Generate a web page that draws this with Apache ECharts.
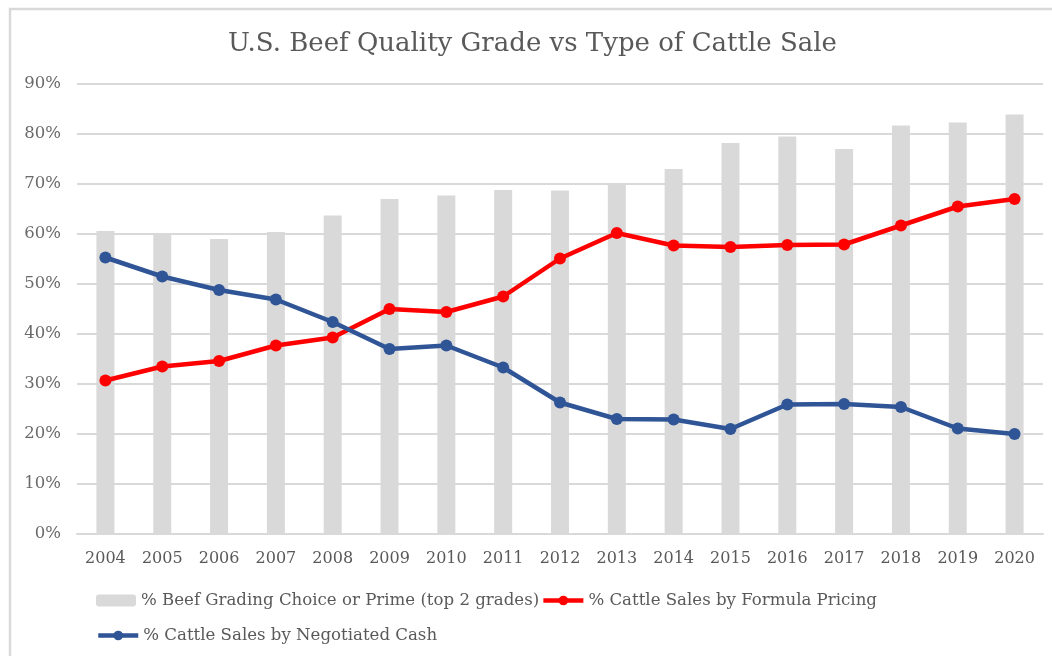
<!DOCTYPE html>
<html>
<head>
<meta charset="utf-8">
<script src="https://cdn.jsdelivr.net/npm/echarts@6/dist/echarts.min.js"></script>
<style>
  html, body { margin: 0; padding: 0; background: #fff; }
  #chart { width: 1052px; height: 656px; }
</style>
</head>
<body>
<div id="chart"></div>
<script>
const years = ['2004', '2005', '2006', '2007', '2008', '2009', '2010', '2011', '2012',
  '2013', '2014', '2015', '2016', '2017', '2018', '2019', '2020']

// % of beef grading Choice or Prime
const choicePrime = [60.6, 60.1, 59.0, 60.4, 63.7, 67.0, 67.7, 68.8, 68.7,
  70.2, 73.0, 78.2, 79.5, 77.0, 81.7, 82.3, 83.9]

// % of cattle sold on formula pricing
const formulaPricing = [30.7, 33.5, 34.6, 37.7, 39.3, 45.0, 44.4, 47.5, 55.1,
  60.2, 57.7, 57.4, 57.8, 57.9, 61.7, 65.5, 67.0]

// % of cattle sold by negotiated cash
const negotiatedCash = [55.3, 51.5, 48.8, 46.9, 42.4, 37.0, 37.7, 33.3, 26.3,
  23.0, 22.9, 21.0, 25.9, 26.0, 25.4, 21.1, 20.0]

const seriesNames = [
  '% Beef Grading Choice or Prime (top 2 grades)',
  '% Cattle Sales by Formula Pricing',
  '% Cattle Sales by Negotiated Cash'
]

const font = 'DejaVu Serif'
const textGray = '#595959'
const gridGray = '#d9d9d9'

const chart = echarts.init(document.getElementById('chart'))

// two legends so the second row sits lower, like the original
const legendBase = {
  left: 91,
  itemGap: 2,
  itemWidth: 40,
  itemHeight: 12,
  lineStyle: { width: 4.5 },
  textStyle: { fontFamily: font, fontSize: 16.6, color: textGray }
}

const option = {
  animation: false,
  textStyle: { fontFamily: font },
  title: {
    text: 'U.S. Beef Quality Grade vs Type of Cattle Sale',
    left: 223,
    top: 26,
    textStyle: { fontFamily: font, fontSize: 26, fontWeight: 'normal', color: textGray }
  },
  graphic: [{
    type: 'rect',
    shape: { x: 10, y: 9, width: 1100, height: 700 },
    style: { fill: 'none', stroke: gridGray, lineWidth: 2.5 },
    silent: true
  }],
  grid: { left: 77, right: 9, top: 84, bottom: 122 },
  legend: [
    Object.assign({}, legendBase, { top: 587, data: [seriesNames[0], seriesNames[1]] }),
    Object.assign({}, legendBase, { top: 622, data: [seriesNames[2]] })
  ],
  xAxis: {
    type: 'category',
    data: years,
    axisTick: { show: false },
    axisLine: { lineStyle: { color: gridGray, width: 2 } },
    axisLabel: { color: textGray, fontSize: 16, fontFamily: font, margin: 17 }
  },
  yAxis: {
    type: 'value',
    min: 0,
    max: 90,
    interval: 10,
    axisLine: { show: false },
    axisTick: { show: false },
    splitLine: { lineStyle: { color: gridGray, width: 2 } },
    axisLabel: { color: '#6a6a6a', fontSize: 16.5, fontFamily: font, margin: 16, formatter: '{value}%' }
  },
  series: [
    {
      name: seriesNames[0],
      type: 'bar',
      data: choicePrime,
      barWidth: 18,
      itemStyle: { color: gridGray }
    },
    {
      name: seriesNames[1],
      type: 'line',
      data: formulaPricing,
      symbol: 'circle',
      symbolSize: 12,
      lineStyle: { color: '#ff0000', width: 4.5 },
      itemStyle: { color: '#ff0000' }
    },
    {
      name: seriesNames[2],
      type: 'line',
      data: negotiatedCash,
      symbol: 'circle',
      symbolSize: 12,
      lineStyle: { color: '#2f5597', width: 4.5 },
      itemStyle: { color: '#2f5597' }
    }
  ]
}

chart.setOption(option)
</script>
</body>
</html>
